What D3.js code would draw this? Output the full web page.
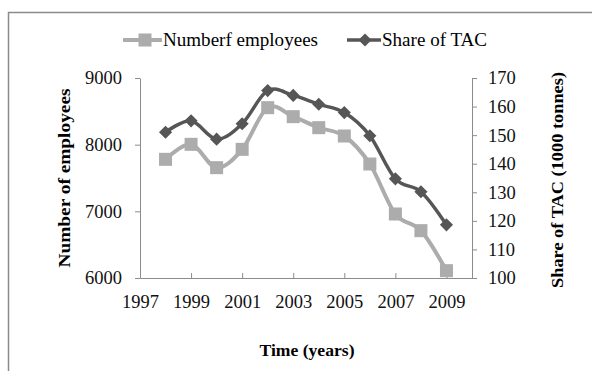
<!DOCTYPE html>
<html>
<head>
<meta charset="utf-8">
<script src="https://cdn.jsdelivr.net/npm/d3@7/dist/d3.min.js"></script>
<style>
  html, body { margin: 0; padding: 0; background: #fff; }
  svg { display: block; font-family: "Liberation Serif", "Times New Roman", serif; }
</style>
</head>
<body>
<svg id="chart" width="592" height="371"></svg>
<script>
// Fishery workforce and share of total allowable catch, 1998–2009
const years = [1998, 1999, 2000, 2001, 2002, 2003, 2004, 2005, 2006, 2007, 2008, 2009];
const employees = [7780, 8005, 7655, 7930, 8555, 8420, 8255, 8130, 7710, 6960, 6710, 6110];
const tacShare = [151, 155, 148.6, 154, 165.6, 163.9, 160.8, 157.9, 149.8, 134.7, 130.2, 118.6];
const xTicks = [1997, 1999, 2001, 2003, 2005, 2007, 2009];
const leftTicks = [6000, 7000, 8000, 9000];
const rightTicks = [100, 110, 120, 130, 140, 150, 160, 170];
const seriesNames = ["Numberf employees", "Share of TAC"];

const svg = d3.select("#chart");
const W = 592, H = 371;
const plotL = 140, plotR = 472, plotT = 78, plotB = 278;

const lightCol = "#acacac";
const darkCol = "#565656";
const axisCol = "#8c8c8c";

// outer frame (open to the right and bottom)
svg.append("path")
  .attr("d", `M8.5,${H} L8.5,12.5 L${W},12.5`)
  .attr("fill", "none").attr("stroke", "#8a8a8a").attr("stroke-width", 1.5);

const x = d3.scaleLinear().domain([1997, 2010]).range([plotL, plotR]);
const yL = d3.scaleLinear().domain([6000, 9000]).range([plotB, plotT]);
const yR = d3.scaleLinear().domain([100, 170]).range([plotB, plotT]);

const styleAxis = g => {
  g.select(".domain").attr("stroke", axisCol).attr("stroke-width", 1);
  g.selectAll(".tick line").attr("stroke", axisCol);
  g.selectAll(".tick text").attr("fill", "#111")
    .attr("font-family", "'Liberation Serif', serif").attr("font-size", 18.5);
};

// left axis
svg.append("g").attr("transform", `translate(${plotL},0)`)
  .call(d3.axisLeft(yL).tickValues(leftTicks).tickSize(5).tickPadding(13).tickSizeOuter(0).tickFormat(d3.format("d")))
  .call(styleAxis);

// right axis
svg.append("g").attr("transform", `translate(${plotR},0)`)
  .call(d3.axisRight(yR).tickValues(rightTicks).tickSize(5).tickPadding(11).tickSizeOuter(0).tickFormat(d3.format("d")))
  .call(styleAxis);

// bottom axis
const xg = svg.append("g").attr("transform", `translate(0,${plotB})`)
  .call(d3.axisBottom(x).tickValues(xTicks).tickSize(5).tickPadding(12).tickSizeOuter(0).tickFormat(d3.format("d")))
  .call(styleAxis);
xg.selectAll(".tick line").attr("y1", 0).attr("y2", -5);
xg.selectAll(".tick").filter(d => d === 1997).select("line").remove();

// axis titles
svg.append("text").attr("x", 307).attr("y", 356).attr("text-anchor", "middle")
  .attr("font-weight", "bold").attr("font-size", 17).attr("textLength", 95).attr("lengthAdjust", "spacingAndGlyphs")
  .text("Time (years)");
svg.append("text").attr("transform", "translate(70,178) rotate(-90)").attr("text-anchor", "middle")
  .attr("font-weight", "bold").attr("font-size", 17).attr("textLength", 179).attr("lengthAdjust", "spacingAndGlyphs")
  .text("Number of employees");
svg.append("text").attr("transform", "translate(563,180) rotate(-90)").attr("text-anchor", "middle")
  .attr("font-weight", "bold").attr("font-size", 17).attr("textLength", 216).attr("lengthAdjust", "spacingAndGlyphs")
  .text("Share of TAC (1000 tonnes)");

const curve = d3.curveCardinal.tension(0);

// employees series (light, squares)
const lineL = d3.line().x((d, i) => x(years[i])).y(d => yL(d)).curve(curve);
svg.append("path").datum(employees).attr("d", lineL)
  .attr("fill", "none").attr("stroke", lightCol).attr("stroke-width", 4);
const sq = 13;
svg.append("g").selectAll("rect").data(employees).join("rect")
  .attr("x", (d, i) => x(years[i]) - sq / 2).attr("y", d => yL(d) - sq / 2)
  .attr("width", sq).attr("height", sq).attr("fill", lightCol);

// TAC series (dark, diamonds)
const lineR = d3.line().x((d, i) => x(years[i])).y(d => yR(d)).curve(curve);
svg.append("path").datum(tacShare).attr("d", lineR)
  .attr("fill", "none").attr("stroke", darkCol).attr("stroke-width", 3.5);
const diamond = d3.symbol().type(d3.symbolDiamond2).size(110);
svg.append("g").selectAll("path").data(tacShare).join("path")
  .attr("transform", (d, i) => `translate(${x(years[i])},${yR(d)})`)
  .attr("d", diamond).attr("fill", darkCol);

// legend
const lg = svg.append("g");
const ly = 40;
lg.append("line").attr("x1", 123).attr("x2", 162).attr("y1", ly).attr("y2", ly)
  .attr("stroke", lightCol).attr("stroke-width", 4);
lg.append("rect").attr("x", 145 - 6.5).attr("y", ly - 6.5).attr("width", 13).attr("height", 13).attr("fill", lightCol);
lg.append("text").attr("x", 163).attr("y", ly + 6).attr("font-size", 18)
  .attr("textLength", 155).attr("lengthAdjust", "spacingAndGlyphs").text(seriesNames[0]);
lg.append("line").attr("x1", 347).attr("x2", 381).attr("y1", ly).attr("y2", ly)
  .attr("stroke", darkCol).attr("stroke-width", 3.5);
lg.append("path").attr("transform", `translate(365,${ly})`).attr("d", diamond).attr("fill", darkCol);
lg.append("text").attr("x", 382).attr("y", ly + 6).attr("font-size", 18)
  .attr("textLength", 105).attr("lengthAdjust", "spacingAndGlyphs").text(seriesNames[1]);
</script>
</body>
</html>
